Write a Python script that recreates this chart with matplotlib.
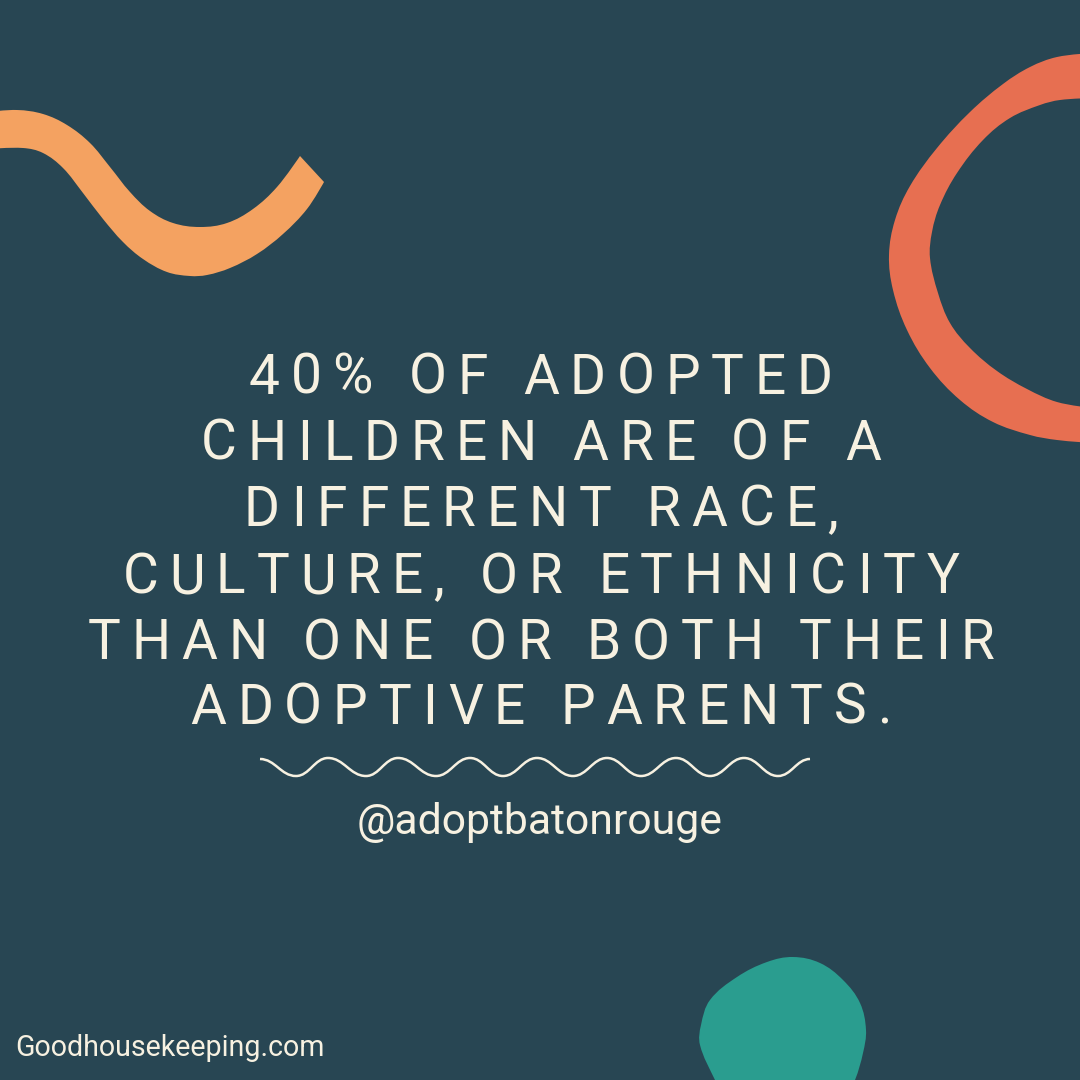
import numpy as np
import matplotlib
matplotlib.use("Agg")
import matplotlib.pyplot as plt
from matplotlib.path import Path
from matplotlib.patches import PathPatch
from matplotlib.text import Text
from matplotlib.transforms import Bbox, IdentityTransform
from matplotlib.font_manager import FontProperties, findfont
from matplotlib.ft2font import FT2Font, LoadFlags

BG = "#284653"
CREAM = "#F7F1E1"
ORANGE = "#F4A261"
RED = "#E76F51"
TEAL = "#2A9D8F"

headline_lines = [
    "40% OF ADOPTED",
    "CHILDREN ARE OF A",
    "DIFFERENT RACE,",
    "CULTURE, OR ETHNICITY",
    "THAN ONE OR BOTH THEIR",
    "ADOPTIVE PARENTS.",
]
headline_baselines = [394, 460, 526, 593, 659, 724]
headline_center = 541
handle_text = "@adoptbatonrouge"
source_text = "Goodhousekeeping.com"

orange_outline = [(-12, 112), (17, 110), (43, 114), (67, 125), (90, 143), (110, 167), (130, 192), (150, 211),
                  (173, 223), (200, 227), (227, 223), (253, 209), (277, 187), (300, 156),
                  (324, 182), (307, 209), (283, 234), (257, 254), (230, 268), (207, 275), (190, 276), (167, 272),
                  (143, 259), (123, 242), (103, 219), (83, 193), (63, 168), (43, 153), (23, 148), (-12, 149)]
orange_corners = {0, 13, 14, 29}
red_outline = [(1092, 53), (1057, 57), (1030, 67), (1003, 84), (970, 112), (937, 148), (910, 186), (895, 220),
               (889, 255), (893, 290), (907, 330), (930, 368), (960, 400), (993, 422), (1030, 435), (1057, 440),
               (1092, 443), (1092, 408), (1057, 402), (1027, 389), (997, 371), (970, 348), (950, 323), (938, 293),
               (930, 258), (932, 232), (940, 205), (957, 173), (983, 140), (1010, 118), (1040, 105), (1060, 100),
               (1092, 98)]
red_corners = {0, 16, 17, 32}
teal_outline = [(724, 1096), (715, 1080), (700, 1045), (701, 1025), (710, 1000), (737, 977), (767, 962), (793, 957),
                (820, 963), (843, 980), (860, 1003), (866, 1030), (863, 1053), (855, 1080), (846, 1096)]
teal_corners = {0, 14}

wave_x = [260, 296, 328, 366, 398, 436, 470, 503, 537, 573, 607, 641, 676, 710, 744, 778, 810]
wave_y = [759, 776, 758, 776, 758, 776, 758, 776, 758, 776, 758, 776, 758, 776, 758, 776, 759]


def smooth_closed(pts, corners):
    """Closed smooth outline as Bezier segments; handles scale with each chord, corner points stay sharp."""
    p = np.array(pts, float)
    n = len(p)
    unit = []
    for i in range(n):
        d = p[(i + 1) % n] - p[i - 1]
        unit.append(d / np.hypot(*d))
    verts, codes = [p[0]], [Path.MOVETO]
    for i in range(n):
        j = (i + 1) % n
        chord = np.hypot(*(p[j] - p[i])) * 0.36
        c1 = p[i] + (0 if i in corners else unit[i] * chord)
        c2 = p[j] - (0 if j in corners else unit[j] * chord)
        verts += [c1, c2, p[j]]
        codes += [Path.CURVE4] * 3
    return Path(np.array(verts), codes)


def wave_path(xs, ys):
    verts, codes = [(xs[0], ys[0])], [Path.MOVETO]
    for i in range(len(xs) - 1):
        h = (xs[i + 1] - xs[i]) * 0.42
        verts += [(xs[i] + h, ys[i]), (xs[i + 1] - h, ys[i + 1]), (xs[i + 1], ys[i + 1])]
        codes += [Path.CURVE4] * 3
    return Path(verts, codes)


class SpacedText(Text):
    """One line of text drawn with letter spacing (in pixels), centred on x."""

    def __init__(self, x, y, text, spacing=0.0, **kw):
        super().__init__(x, y, text, ha="center", va="baseline", **kw)
        self._spacing = spacing

    def _advances(self):
        font = FT2Font(findfont(self.get_fontproperties()))
        font.set_size(self.get_fontsize(), self.get_figure().dpi)
        out = []
        for ch in self.get_text():
            g = font.load_char(ord(ch), flags=LoadFlags.NO_HINTING)
            out.append(g.linearHoriAdvance / 65536 + self._spacing)
        return out

    def get_window_extent(self, renderer=None, dpi=None):
        adv = self._advances()
        total = sum(adv) - self._spacing
        x, y = self.get_transform().transform(self.get_position())
        h = self.get_fontsize() * self.get_figure().dpi / 72 * 0.75
        return Bbox.from_extents(x - total / 2, y, x + total / 2, y + h)

    def draw(self, renderer):
        adv = self._advances()
        total = sum(adv) - self._spacing
        x, y = self.get_transform().transform(self.get_position())
        cur = x - total / 2
        for ch, a in zip(self.get_text(), adv):
            if ch != " ":
                t = Text(cur, y, ch, ha="left", va="baseline", color=self.get_color(),
                         fontproperties=self.get_fontproperties())
                t.set_figure(self.get_figure())
                t.set_transform(IdentityTransform())
                t.draw(renderer)
            cur += a


fig = plt.figure(figsize=(10.8, 10.8), dpi=100, facecolor=BG)
ax = fig.add_axes([0, 0, 1, 1])
ax.set_xlim(0, 1080)
ax.set_ylim(1080, 0)
ax.axis("off")

for pts, corners, col in [(orange_outline, orange_corners, ORANGE),
                          (red_outline, red_corners, RED),
                          (teal_outline, teal_corners, TEAL)]:
    ax.add_patch(PathPatch(smooth_closed(pts, corners), facecolor=col, edgecolor="none", clip_on=True))

ax.add_patch(PathPatch(wave_path(wave_x, wave_y), facecolor="none", edgecolor=CREAM, lw=1.8))

head_font = FontProperties(family="Roboto", size=55 * 0.72)
for line, base in zip(headline_lines, headline_baselines):
    t = SpacedText(headline_center, base, line, spacing=10.9, color=CREAM, fontproperties=head_font,
                   transform=ax.transData)
    ax.add_artist(t)

ax.text(540, 834, handle_text, family="Roboto", fontsize=42.8 * 0.72, color=CREAM, ha="center", va="baseline")
ax.text(15, 1056, source_text, family="Roboto", fontsize=28.6 * 0.72, color=CREAM, ha="left", va="baseline")

fig.savefig("out.png", dpi=100, facecolor=BG)
